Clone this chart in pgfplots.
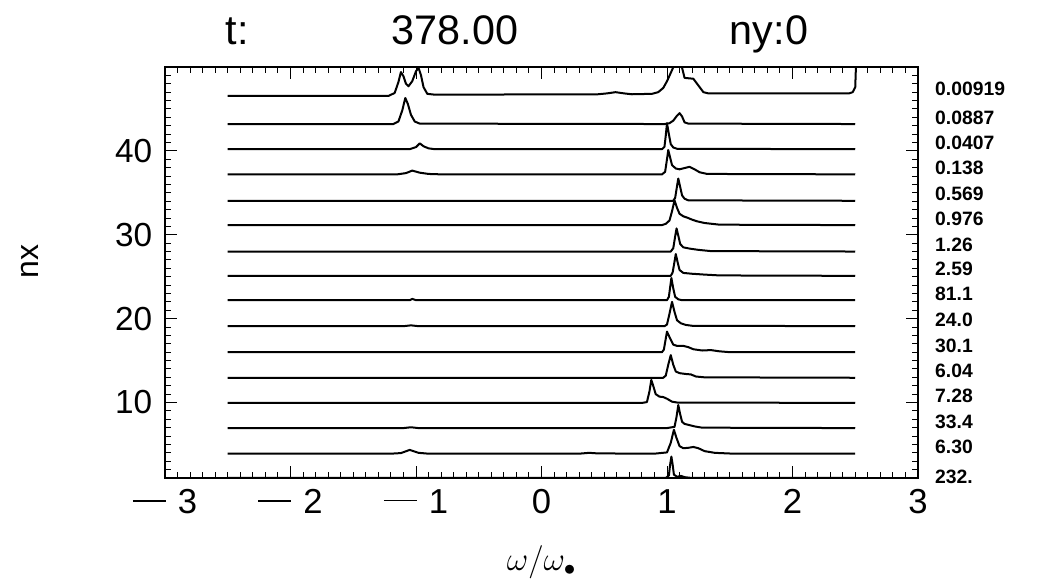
\documentclass[border=0pt]{standalone}
\usepackage{pgfplots}
\pgfplotsset{compat=1.18}
\usepackage{fontspec}
\setmainfont{Liberation Sans}
\newcommand{\mn}{\rule[0.34em]{0.95em}{1.3pt}\hspace{0.35em}}
\begin{document}
\begin{tikzpicture}
\useasboundingbox (-123.75pt,-82.5pt) rectangle (657.75pt,358.5pt);
\begin{axis}[
  at={(0,0)}, anchor=south west,
  scale only axis, width=564.75pt, height=308.25pt,
  xmin=-3, xmax=3, ymin=1, ymax=50,
  xtick={-3,-2,-1,0,1,2,3},
  xticklabels={\mn 3,\mn 2,\mn 1,0,1,2,3},
  ytick={10,20,30,40},
  yticklabels={10,20,30,40},
  minor xtick={-2.9,-2.8,...,2.95},
  minor ytick={2,3,...,49},
  major tick length=9pt, minor tick length=4.5pt,
  tick style={black, line width=0.7pt},
  axis line style={line width=1.3pt},
  xticklabel style={font=\fontsize{26}{30}\selectfont, yshift=-5pt},
  yticklabel style={font=\fontsize{25}{28}\selectfont, xshift=-6pt},
  xlabel={$\omega/\omega_{\bullet}$},
  xlabel style={font=\fontsize{27}{30}\selectfont, yshift=-17pt},
  ylabel={nx},
  ylabel style={font=\fontsize{24}{28}\selectfont, at={(axis description cs:-0.179,0.526)}, anchor=center},
  clip mode=individual,
  every axis plot post/.append style={black, solid, line width=1.5pt, line join=round, mark=none},
]
% T1
\addplot coordinates {(-2.5,1) (0.99,1) (1.015,1.3) (1.025,2.6) (1.035,3.55) (1.045,2.6) (1.055,1.4) (1.08,1.15) (1.11,1.25) (1.14,1.1) (1.2,1) (2.5,1)};
% T2
\addplot coordinates {(-2.5,3.9) (-1.2,3.9) (-1.12,3.97) (-1.05,4.35) (-0.98,4.0) (-0.9,3.9) (0.3,3.9) (0.38,4.0) (0.45,3.93) (0.9,3.9) (1.0,4.05) (1.03,5.2) (1.055,6.75) (1.075,5.8) (1.1,4.8) (1.13,4.55) (1.17,4.6) (1.21,4.7) (1.25,4.55) (1.3,4.2) (1.38,4.0) (1.5,3.92) (2.5,3.9)};
% T3
\addplot coordinates {(-2.5,6.95) (-1.1,6.95) (-1.04,7.05) (-0.98,6.95) (1.0,6.95) (1.06,7.1) (1.075,8.2) (1.09,9.7) (1.105,8.6) (1.12,7.7) (1.14,7.45) (1.18,7.3) (1.22,7.15) (1.28,7.0) (2.5,6.95)};
% T4
\addplot coordinates {(-2.5,9.95) (0.8,9.95) (0.84,10.05) (0.86,11.3) (0.875,12.7) (0.89,12.0) (0.91,11.0) (0.94,10.7) (0.97,10.65) (1.0,10.45) (1.04,10.1) (1.08,10.0) (2.5,9.95)};
% T5
\addplot coordinates {(-2.5,12.95) (0.97,12.95) (0.99,13.2) (1.01,14.5) (1.03,15.65) (1.05,14.5) (1.07,13.7) (1.1,13.5) (1.15,13.4) (1.19,13.35) (1.23,13.1) (1.3,13.0) (2.5,12.95)};
% T6
\addplot coordinates {(-2.5,16) (0.96,16) (0.975,16.3) (0.99,17.6) (1.0,18.45) (1.02,17.8) (1.05,16.9) (1.08,16.75) (1.13,16.75) (1.17,16.6) (1.21,16.35) (1.28,16.2) (1.35,16.25) (1.42,16.1) (1.5,16.0) (2.5,16)};
% T7
\addplot coordinates {(-2.5,19.1) (-1.1,19.1) (-1.04,19.2) (-0.98,19.1) (0.98,19.1) (1.0,19.3) (1.02,20.6) (1.04,22.0) (1.06,20.8) (1.08,19.8) (1.11,19.45) (1.15,19.25) (1.2,19.15) (2.5,19.1)};
% T8
\addplot coordinates {(-2.5,22.2) (-1.05,22.2) (-1.03,22.35) (-1.0,22.2) (1.0,22.2) (1.015,22.6) (1.035,24.85) (1.05,23.6) (1.065,22.6) (1.09,22.3) (1.12,22.2) (2.5,22.2)};
% T9
\addplot coordinates {(-2.5,25.1) (1.03,25.1) (1.045,25.5) (1.06,26.8) (1.07,27.7) (1.085,26.7) (1.1,25.8) (1.13,25.45) (1.2,25.35) (1.3,25.25) (1.42,25.15) (2.5,25.1)};
% T10
\addplot coordinates {(-2.5,28) (1.03,28) (1.05,28.4) (1.065,29.8) (1.076,30.75) (1.09,29.9) (1.105,28.9) (1.13,28.5) (1.18,28.35) (1.25,28.2) (1.35,28.05) (2.5,28)};
% T11
\addplot coordinates {(-2.5,31.15) (0.96,31.15) (0.99,31.3) (1.02,31.7) (1.04,32.8) (1.06,34.1) (1.08,33.2) (1.1,32.5) (1.13,32.2) (1.16,32.05) (1.2,31.8) (1.24,31.6) (1.3,31.4) (1.42,31.2) (2.5,31.15)};
% T12
\addplot coordinates {(-2.5,34.05) (1.05,34.05) (1.065,34.4) (1.08,35.8) (1.09,36.7) (1.105,35.7) (1.12,34.7) (1.14,34.3) (1.17,34.1) (2.5,34.05)};
% T13
\addplot coordinates {(-2.5,37.2) (-1.15,37.2) (-1.08,37.35) (-1.03,37.65) (-0.97,37.4) (-0.9,37.25) (-0.8,37.2) (0.96,37.2) (0.985,37.5) (1.0,39.0) (1.01,40.1) (1.025,39.2) (1.04,38.3) (1.07,37.9) (1.1,37.8) (1.14,37.95) (1.18,38.1) (1.22,37.8) (1.26,37.45) (1.32,37.25) (2.5,37.2)};
% T14
\addplot coordinates {(-2.5,40.2) (-1.05,40.2) (-1.0,40.45) (-0.97,40.9) (-0.94,40.55) (-0.9,40.3) (-0.85,40.2) (0.96,40.2) (0.98,40.5) (0.99,41.8) (1.0,43.3) (1.015,42.0) (1.03,40.8) (1.05,40.4) (1.08,40.25) (2.5,40.2)};
% T15
\addplot coordinates {(-2.5,43.2) (-1.18,43.2) (-1.14,43.5) (-1.11,44.8) (-1.085,46.3) (-1.065,45.6) (-1.04,44.3) (-1.01,43.5) (-0.97,43.25) (0.98,43.2) (1.02,43.3) (1.05,43.6) (1.08,44.2) (1.1,44.5) (1.12,44.1) (1.14,43.4) (1.17,43.25) (2.5,43.2)};
% T16
\addplot coordinates {(-2.5,46.55) (-1.22,46.55) (-1.17,46.9) (-1.14,48.2) (-1.12,49.4) (-1.1,48.9) (-1.08,48.0) (-1.06,47.7) (-1.03,48.3) (-1.0,49.5) (-0.98,49.9) (-0.96,49.0) (-0.94,47.6) (-0.91,46.8) (-0.85,46.7) (0.45,46.75) (0.52,46.85) (0.59,47.0) (0.66,46.85) (0.72,46.75) (0.88,46.8) (0.93,47.0) (0.97,47.5) (1.0,48.3) (1.03,49.3) (1.06,50.3) (1.08,51) (1.11,50.5) (1.14,48.7) (1.21,48.6) (1.25,47.8) (1.29,47.0) (1.33,46.85) (2.45,46.85) (2.48,47.0) (2.5,47.6) (2.51,52)};
% right-hand labels
\begin{scope}[every node/.style={anchor=base west, font=\bfseries\fontsize{14.5}{16}\selectfont, inner sep=0pt}]
\node at (axis cs:3.135,46.55) {0.00919};
\node at (axis cs:3.135,43.2) {0.0887};
\node at (axis cs:3.135,40.2) {0.0407};
\node at (axis cs:3.135,37.2) {0.138};
\node at (axis cs:3.135,34.05) {0.569};
\node at (axis cs:3.135,31.15) {0.976};
\node at (axis cs:3.135,28.0) {1.26};
\node at (axis cs:3.135,25.1) {2.59};
\node at (axis cs:3.135,22.2) {81.1};
\node at (axis cs:3.135,19.1) {24.0};
\node at (axis cs:3.135,16.0) {30.1};
\node at (axis cs:3.135,12.95) {6.04};
\node at (axis cs:3.135,9.95) {7.28};
\node at (axis cs:3.135,6.95) {33.4};
\node at (axis cs:3.135,3.9) {6.30};
\node at (axis cs:3.135,0.3) {232.};
\end{scope}
\end{axis}
\begin{scope}[every node/.style={anchor=base, font=\fontsize{31}{36}\selectfont, inner sep=0pt}]
\node at (54pt,324.75pt) {t:};
\node at (217.5pt,324.75pt) {378.00};
\node at (453pt,324.75pt) {ny:0};
\end{scope}
\end{tikzpicture}
\end{document}
